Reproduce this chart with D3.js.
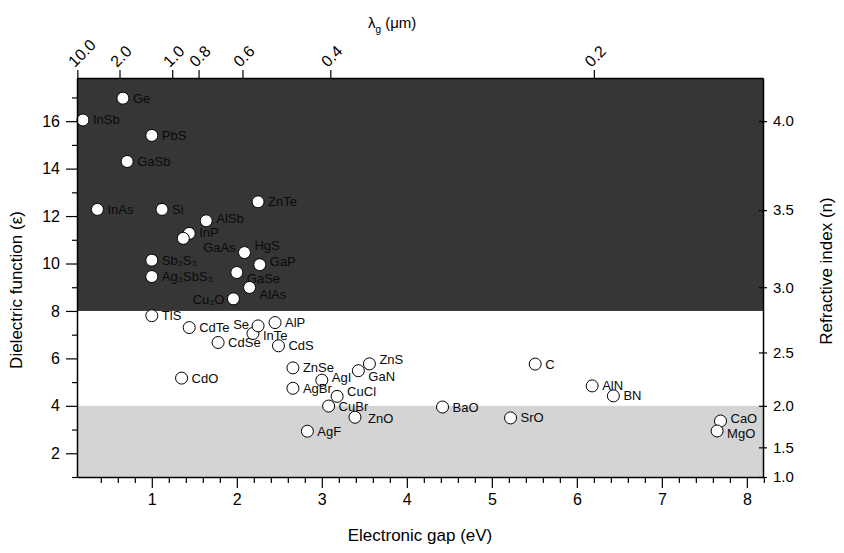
<!DOCTYPE html>
<html lang="en">
<head>
<meta charset="utf-8">
<title>Dielectric function vs electronic gap</title>
<script src="https://d3js.org/d3.v7.min.js"></script>
<style>
  body { margin: 0; background: #fff; }
  svg { display: block; font-family: "Liberation Sans", Arial, sans-serif; }
</style>
</head>
<body>
<script>
// data: gap (eV) and dielectric function
const materials = ["Ge", "InSb", "PbS", "GaSb", "InAs", "Si", "ZnTe", "AlSb", "InP", "GaAs",
  "HgS", "Sb\u2082S\u2083", "GaP", "GaSe", "Ag\u2083SbS\u2083", "AlAs", "Cu\u2082O",
  "TlS", "CdTe", "CdSe", "InTe", "Se", "AlP", "CdS", "CdO", "ZnSe", "ZnS", "GaN",
  "AgI", "AgBr", "CuCl", "CuBr", "ZnO", "C", "AlN", "BN", "BaO", "SrO", "CaO", "MgO", "AgF"];
const gapEV = [0.66, 0.19, 1.0, 0.71, 0.36, 1.12, 2.25, 1.64, 1.44, 1.37,
  2.09, 1.0, 2.27, 2.0, 1.0, 2.15, 1.96,
  1.0, 1.44, 1.78, 2.19, 2.25, 2.45, 2.49, 1.35, 2.66, 3.56, 3.43,
  3.0, 2.66, 3.18, 3.08, 3.39, 5.51, 6.18, 6.43, 4.42, 5.22, 7.69, 7.65, 2.83];
const epsilon = [16.97, 16.05, 15.4, 14.3, 12.28, 12.28, 12.6, 11.8, 11.27, 11.06,
  10.46, 10.14, 9.95, 9.62, 9.45, 8.99, 8.51,
  7.8, 7.3, 6.67, 7.05, 7.37, 7.51, 6.53, 5.17, 5.6, 5.77, 5.48,
  5.08, 4.74, 4.4, 3.99, 3.52, 5.76, 4.84, 4.42, 3.95, 3.49, 3.36, 2.94, 2.93];

// shaded bands (dielectric function limits)
const bandLow = [8, 1];
const bandHigh = [17.82, 4];
const bandColor = ["#363636", "#d4d4d4"];

const gapTicks = [1, 2, 3, 4, 5, 6, 7, 8];
const epsTicks = [2, 4, 6, 8, 10, 12, 14, 16];
const lambdaTicks = [10.0, 2.0, 1.0, 0.8, 0.6, 0.4, 0.2];
const lambdaLabels = ["10.0", "2.0", "1.0", "0.8", "0.6", "0.4", "0.2"];
const nTicks = [1.0, 1.5, 2.0, 2.5, 3.0, 3.5, 4.0];
const nLabels = ["1.0", "1.5", "2.0", "2.5", "3.0", "3.5", "4.0"];

// label placement tweaks for crowded spots: [dx, dy, anchor]
const labelNudge = {
  "AlSb": [10, 2, "start"],
  "InP": [10, 4, "start"],
  "GaAs": [20, 14, "start"],
  "HgS": [10, -3, "start"],
  "GaP": [10, 1, "start"],
  "GaSe": [10, 10, "start"],
  "AlAs": [10, 12, "start"],
  "Cu\u2082O": [-9, 5, "end"],
  "Se": [-9, 3, "end"],
  "InTe": [10, 7, "start"],
  "ZnS": [10, 0, "start"],
  "GaN": [10, 10, "start"],
  "AgI": [10, 2, "start"],
  "CuCl": [10, 0, "start"],
  "CuBr": [10, 5, "start"],
  "ZnO": [13, 6, "start"],
  "CaO": [10, 2, "start"],
  "MgO": [10, 7, "start"]
};

let w = 844, h = 553;
let plotLeft = 77, plotRight = 763, plotTop = 78, plotBottom = 477;

let svg = d3.select("body").append("svg")
  .attr("width", w).attr("height", h);

svg.append("rect").attr("width", w).attr("height", h).attr("fill", "#fff");

let x = d3.scaleLinear().domain([0.12, 8.19]).range([plotLeft, plotRight]);
let y = d3.scaleLinear().domain([1, 17.82]).range([plotBottom, plotTop]);

// bands
svg.selectAll("rect.band")
  .data(bandLow)
  .enter().append("rect")
  .attr("class", "band")
  .attr("x", plotLeft)
  .attr("width", plotRight - plotLeft)
  .attr("y", (d, i) => y(bandHigh[i]))
  .attr("height", (d, i) => y(d) - y(bandHigh[i]))
  .attr("fill", (d, i) => bandColor[i]);

// points
let pts = svg.append("g").selectAll("g")
  .data(materials)
  .enter().append("g")
  .attr("transform", (d, i) => "translate(" + x(gapEV[i]) + "," + y(epsilon[i]) + ")");

pts.append("circle")
  .attr("r", 6)
  .attr("fill", "#fff")
  .attr("stroke", "#000")
  .attr("stroke-width", 1);

pts.append("text")
  .attr("x", d => labelNudge[d] ? labelNudge[d][0] : 10)
  .attr("y", d => labelNudge[d] ? labelNudge[d][1] : 4.5)
  .attr("text-anchor", d => labelNudge[d] ? labelNudge[d][2] : "start")
  .attr("font-size", "13px")
  .attr("fill", "#0a0a0a")
  .text(d => d);

// bottom axis
let minorX = d3.range(2, 42).map(d => d / 5).filter(d => Math.abs(d - Math.round(d)) > 0.01);
svg.append("g")
  .attr("transform", "translate(0," + plotBottom + ")")
  .call(d3.axisBottom(x).tickValues(minorX).tickSize(6).tickFormat(""))
  .call(g => g.select(".domain").remove());
let xAxis = svg.append("g")
  .attr("transform", "translate(0," + plotBottom + ")")
  .call(d3.axisBottom(x).tickValues(gapTicks).tickSize(11).tickSizeOuter(0).tickPadding(6).tickFormat(d3.format("d")));
xAxis.selectAll("text").attr("font-size", "16px");

// left axis
let minorY = d3.range(1, 18, 2);
svg.append("g")
  .attr("transform", "translate(" + plotLeft + ",0)")
  .call(d3.axisLeft(y).tickValues(minorY).tickSize(5).tickFormat(""))
  .call(g => g.select(".domain").remove());
let yAxis = svg.append("g")
  .attr("transform", "translate(" + plotLeft + ",0)")
  .call(d3.axisLeft(y).tickValues(epsTicks).tickSize(11).tickSizeOuter(0).tickPadding(6));
yAxis.selectAll("text").attr("font-size", "16px");

// top axis: wavelength = 1.24 / E
let topAxis = svg.append("g")
  .attr("transform", "translate(0," + plotTop + ")")
  .call(d3.axisTop(x).tickValues(lambdaTicks.map(l => 1.24 / l)).tickSize(8).tickSizeOuter(0)
    .tickFormat((d, i) => lambdaLabels[i]));
topAxis.selectAll("text")
  .attr("font-size", "16px")
  .attr("text-anchor", "start")
  .attr("x", 0).attr("y", 0).attr("dy", 0)
  .attr("transform", "translate(-3,-10) rotate(-45)");

// right axis: n = sqrt(eps)
let rightAxis = svg.append("g")
  .attr("transform", "translate(" + plotRight + ",0)")
  .call(d3.axisRight(y).tickValues(nTicks.map(n => n * n)).tickSize(4).tickSizeOuter(0).tickPadding(6)
    .tickFormat((d, i) => nLabels[i]));
rightAxis.selectAll("line").attr("x1", -4);
rightAxis.selectAll("text").attr("font-size", "15px");

svg.selectAll(".domain").attr("stroke-width", 1.5);
svg.selectAll(".tick line").attr("stroke-width", 1.2);

// titles
svg.append("text")
  .attr("x", (plotLeft + plotRight) / 2).attr("y", 541)
  .attr("text-anchor", "middle").attr("font-size", "17px")
  .text("Electronic gap (eV)");

svg.append("text")
  .attr("transform", "translate(22,290) rotate(-90)")
  .attr("text-anchor", "middle").attr("font-size", "17px")
  .text("Dielectric function (\u03b5)");

svg.append("text")
  .attr("transform", "translate(832,271) rotate(-90)")
  .attr("text-anchor", "middle").attr("font-size", "17px")
  .text("Refractive index (n)");

let lt = svg.append("text")
  .attr("x", 368).attr("y", 28)
  .attr("font-size", "15px");
lt.append("tspan").text("\u03bb");
lt.append("tspan").attr("dy", 5).attr("font-size", "10px").text("g");
lt.append("tspan").attr("dy", -5).text(" (\u03bcm)");
</script>
</body>
</html>
